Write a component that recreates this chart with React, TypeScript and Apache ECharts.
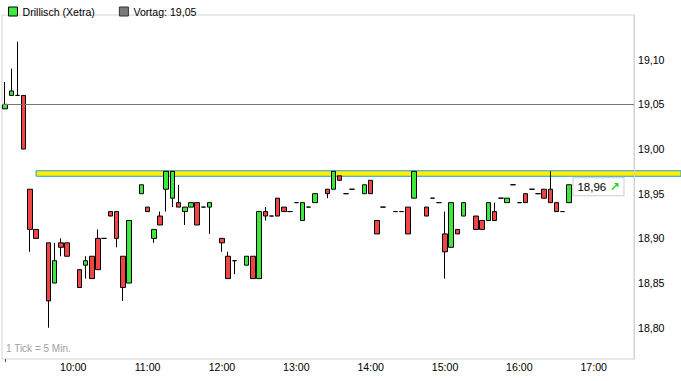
import React, { useEffect, useRef } from 'react';
import * as echarts from 'echarts';

// 5-minute candles (time = end of interval)
const candleTimes = [
  '09:05', '09:10', '09:15', '09:20', '09:25', '09:30', '09:40', '09:45', '09:50', '09:55',
  '10:05', '10:10', '10:15', '10:20', '10:25', '10:30', '10:35', '10:40', '10:45', '10:55',
  '11:00', '11:05', '11:10', '11:15', '11:20', '11:25', '11:30', '11:35', '11:40', '11:45', '11:50',
  '12:00', '12:05', '12:10', '12:20', '12:25', '12:30', '12:35', '12:40', '12:45', '12:50', '12:55',
  '13:00', '13:05', '13:10', '13:15', '13:25', '13:30', '13:35', '13:40', '13:45', '13:55',
  '14:00', '14:05', '14:10', '14:20', '14:25', '14:30', '14:35', '14:45', '14:50', '14:55',
  '15:00', '15:05', '15:10', '15:15', '15:25', '15:30', '15:35', '15:40', '15:45', '15:50', '15:55',
  '16:00', '16:05', '16:10', '16:15', '16:20', '16:25', '16:30', '16:35', '16:40',
];
const opens = [
  19.045, 19.06, 19.06, 19.06, 18.955, 18.91, 18.895, 18.85, 18.895, 18.895,
  18.865, 18.87, 18.88, 18.9, 18.9, 18.93, 18.93, 18.88, 18.85, 18.95,
  18.935, 18.9, 18.925, 18.955, 18.945, 18.94, 18.93, 18.935, 18.94, 18.935, 18.935,
  18.9, 18.88, 18.875, 18.87, 18.88, 18.855, 18.93, 18.925, 18.945, 18.935, 18.93,
  18.94, 18.92, 18.935, 18.94, 18.955, 18.955, 18.97, 18.95, 18.955, 18.95,
  18.965, 18.92, 18.935, 18.93, 18.93, 18.935, 18.945, 18.935, 18.945, 18.94,
  18.905, 18.89, 18.91, 18.925, 18.925, 18.92, 18.92, 18.93, 18.945, 18.94, 18.96,
  18.94, 18.95, 18.955, 18.95, 18.955, 18.955, 18.94, 18.93, 18.94,
];
const closes = [
  19.05, 19.065, 19.06, 19.0, 18.91, 18.9, 18.83, 18.875, 18.89, 18.88,
  18.845, 18.875, 18.855, 18.865, 18.9, 18.925, 18.9, 18.845, 18.92, 18.96,
  18.93, 18.91, 18.915, 18.975, 18.975, 18.935, 18.935, 18.94, 18.915, 18.935, 18.94,
  18.895, 18.855, 18.875, 18.88, 18.855, 18.93, 18.925, 18.925, 18.925, 18.93, 18.93,
  18.94, 18.94, 18.935, 18.95, 18.95, 18.975, 18.965, 18.95, 18.955, 18.96,
  18.95, 18.905, 18.935, 18.93, 18.93, 18.905, 18.975, 18.925, 18.945, 18.94,
  18.885, 18.94, 18.905, 18.94, 18.91, 18.91, 18.94, 18.92, 18.945, 18.945, 18.96,
  18.94, 18.94, 18.955, 18.95, 18.945, 18.94, 18.93, 18.93, 18.96,
];
const lows = [
  19.045, 19.06, 19.06, 19.0, 18.885, 18.9, 18.8, 18.85, 18.88, 18.88,
  18.845, 18.855, 18.855, 18.865, 18.9, 18.925, 18.89, 18.83, 18.85, 18.95,
  18.93, 18.895, 18.915, 18.93, 18.935, 18.935, 18.915, 18.935, 18.915, 18.935, 18.905,
  18.885, 18.855, 18.86, 18.87, 18.855, 18.855, 18.92, 18.925, 18.925, 18.93, 18.93,
  18.94, 18.92, 18.935, 18.94, 18.945, 18.955, 18.965, 18.95, 18.955, 18.95,
  18.95, 18.905, 18.935, 18.93, 18.93, 18.905, 18.945, 18.925, 18.945, 18.94,
  18.855, 18.89, 18.905, 18.925, 18.91, 18.91, 18.92, 18.92, 18.945, 18.94, 18.96,
  18.94, 18.94, 18.955, 18.95, 18.945, 18.94, 18.93, 18.93, 18.94,
];
const highs = [
  19.075, 19.09, 19.12, 19.06, 18.955, 18.91, 18.895, 18.895, 18.9, 18.895,
  18.865, 18.88, 18.88, 18.91, 18.9, 18.93, 18.93, 18.88, 18.92, 18.96,
  18.935, 18.91, 18.93, 18.975, 18.975, 18.96, 18.935, 18.94, 18.94, 18.935, 18.94,
  18.9, 18.885, 18.875, 18.88, 18.88, 18.93, 18.935, 18.925, 18.945, 18.935, 18.93,
  18.94, 18.94, 18.935, 18.95, 18.955, 18.975, 18.97, 18.95, 18.955, 18.96,
  18.965, 18.92, 18.935, 18.93, 18.93, 18.935, 18.975, 18.935, 18.945, 18.94,
  18.93, 18.94, 18.91, 18.94, 18.925, 18.92, 18.94, 18.94, 18.945, 18.945, 18.96,
  18.94, 18.95, 18.955, 18.95, 18.955, 18.975, 18.94, 18.93, 18.96,
];

const yTickValues = [18.8, 18.85, 18.9, 18.95, 19.0, 19.05, 19.1];
const previousClose = 19.05;
const lastPrice = 18.96;
const bandRange = [18.9695, 18.9757];
const bandStart = '09:30';
const sessionFirstSlot = '09:05';
const sessionLastSlot = '17:30';
const yMin = 18.765;
const yMax = 19.15;

const GREEN = '#3de83d';
const RED = '#f24444';
const FONT = '"Liberation Sans", Arial, sans-serif';

function toMinutes(t: string) {
  const [h, m] = t.split(':').map(Number);
  return h * 60 + m;
}
function toLabel(min: number) {
  const h = Math.floor(min / 60);
  const m = min % 60;
  return `${h < 10 ? '0' : ''}${h}:${m < 10 ? '0' : ''}${m}`;
}
function buildSlots() {
  const out: string[] = [];
  for (let t = toMinutes(sessionFirstSlot); t <= toMinutes(sessionLastSlot); t += 5) out.push(toLabel(t));
  return out;
}
const fmt = (v: number) => v.toFixed(2).replace('.', ',');

export default function App() {
  const ref = useRef<HTMLDivElement>(null);
  useEffect(() => {
    if (!ref.current) return;
    const chart = echarts.init(ref.current, null, { renderer: 'svg' });
    const slots = buildSlots();
    const data = slots.map((s) => {
      const i = candleTimes.indexOf(s);
      if (i < 0) return ['-', '-', '-', '-'];
      return [opens[i], closes[i], lows[i], highs[i]];
    });
    const lastTime = candleTimes[candleTimes.length - 1];
    const tickNote = {
      type: 'text',
      left: 6,
      top: 343,
      style: { text: '1 Tick = 5 Min.', fill: '#a0a0a0', fontSize: 10, fontFamily: FONT },
    };

    chart.setOption({
      animation: false,
      textStyle: { fontFamily: FONT },
      legend: {
        left: 3,
        top: 1,
        itemWidth: 9,
        itemHeight: 9,
        itemGap: 24,
        itemTextGap: 4,
        selectedMode: false,
        textStyle: { fontSize: 10.6, color: '#000', fontFamily: FONT },
        data: [
          { name: 'Drillisch (Xetra)', icon: 'rect', itemStyle: { color: GREEN, borderColor: '#000', borderWidth: 1 } },
          { name: 'Vortag: 19,05', icon: 'rect', itemStyle: { color: '#7a7a7a', borderColor: '#333', borderWidth: 1 } },
        ],
      },
      grid: {
        left: 2,
        right: 47,
        top: 15,
        bottom: 22,
        show: true,
        borderColor: '#d4d4d4',
        borderWidth: 1,
      },
      xAxis: {
        type: 'category',
        data: slots,
        boundaryGap: true,
        axisLine: { show: false },
        axisTick: {
          show: true,
          interval: (i: number) => i === 0,
          alignWithLabel: true,
          length: 3,
          lineStyle: { color: '#555' },
        },
        axisLabel: {
          interval: (_i: number, v: string) => v.endsWith(':00'),
          margin: 2,
          color: '#000',
          fontSize: 10.6,
          fontFamily: FONT,
        },
        splitLine: { show: false },
      },
      yAxis: {
        type: 'value',
        position: 'right',
        min: yMin,
        max: yMax,
        z: 5,
        axisLine: { show: true, lineStyle: { color: '#d4d4d4' } },
        axisTick: { show: false },
        splitLine: { show: false },
        axisLabel: {
          customValues: yTickValues,
          formatter: (v: number) => fmt(v),
          margin: 4,
          color: '#000',
          fontSize: 10.6,
          fontFamily: FONT,
        },
      },
      series: [
        {
          name: 'Drillisch (Xetra)',
          type: 'candlestick',
          barWidth: 5,
          z: 3,
          data,
          itemStyle: {
            color: GREEN,
            color0: RED,
            borderColor: '#000',
            borderColor0: '#000',
            borderColorDoji: '#000',
            borderWidth: 1,
          },
          markPoint: {
            symbol: 'rect',
            symbolSize: 1,
            silent: true,
            itemStyle: { color: 'rgba(0,0,0,0)' },
            data: [{ coord: [lastTime, lastPrice], value: lastPrice }],
            label: {
              show: true,
              position: 'right',
              distance: 4,
              offset: [0, 2],
              formatter: `${fmt(lastPrice)} {a|↗}`,
              backgroundColor: '#fff',
              borderColor: '#cccccc',
              borderWidth: 1,
              padding: [3, 4, 2, 4],
              color: '#000',
              fontSize: 11.5,
              fontFamily: FONT,
              rich: { a: { color: '#22d622', fontSize: 12, fontWeight: 'bold', fontFamily: 'DejaVu Sans' } },
            },
          },
        },
        {
          name: 'Vortag: 19,05',
          type: 'line',
          data: [],
          markLine: {
            silent: true,
            symbol: 'none',
            label: { show: false },
            lineStyle: { color: '#777', width: 1, type: 'solid' },
            data: [{ yAxis: previousClose }],
          },
        },
      ],
      graphic: [tickNote],
    });

    const pTop = chart.convertToPixel({ xAxisIndex: 0, yAxisIndex: 0 }, [bandStart, bandRange[1]]) as number[];
    const pBot = chart.convertToPixel({ xAxisIndex: 0, yAxisIndex: 0 }, [bandStart, bandRange[0]]) as number[];
    chart.setOption({
      graphic: [
        tickNote,
        {
          type: 'rect',
          z: 1,
          shape: { x: pTop[0], y: pTop[1], width: 681 - pTop[0], height: pBot[1] - pTop[1] },
          style: { fill: '#ffee00', stroke: '#1f9fe6', lineWidth: 1 },
        },
      ],
    });

    return () => chart.dispose();
  }, []);
  return <div ref={ref} style={{ position: 'absolute', left: 0, top: 0, width: 681, height: 381 }} />;
}
